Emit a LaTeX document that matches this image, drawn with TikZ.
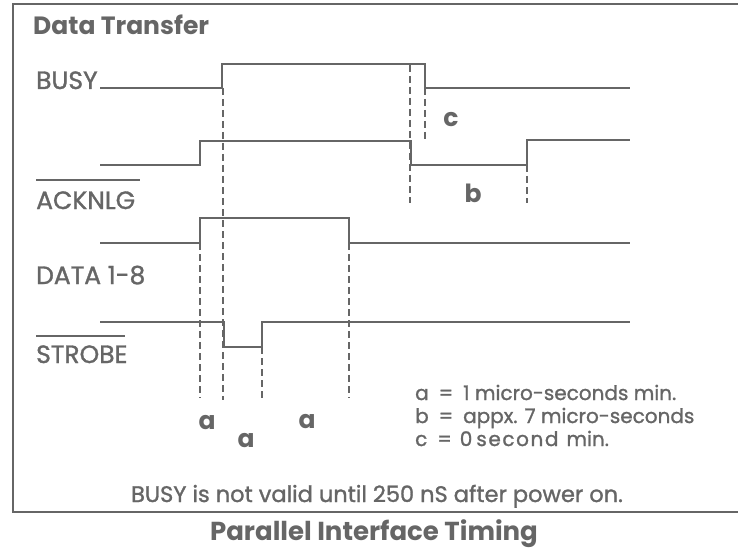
\documentclass[tikz,border=0pt]{standalone}
\usepackage{fontspec}
\setmainfont{Poppins}
\newfontfamily\medfont{Poppins}[FakeBold=1.2]
\definecolor{ink}{HTML}{666666}
\begin{document}
\begin{tikzpicture}[x=1pt,y=-1pt,
  sig/.style={draw=ink, line width=1.7pt, line join=miter},
  dsh/.style={draw=ink, line width=1.3pt, dash pattern=on 7pt off 4pt},
  lab/.style={text=ink, inner sep=0pt, anchor=base west, font=\medfont\fontsize{25}{25}\selectfont},
  hd/.style={text=ink, inner sep=0pt, font=\bfseries\fontsize{25}{25}\selectfont},
  tl/.style={text=ink, inner sep=0pt, font=\bfseries\fontsize{25}{25}\selectfont},
  leg/.style={text=ink, inner sep=0pt, anchor=base west, font=\medfont\fontsize{20}{20}\selectfont}]
\useasboundingbox (0,0) rectangle (738,548);
\fill[white] (0,0) rectangle (738,548);
% frame
\draw[sig] (738,4) -- (13,4) -- (13,512) -- (738,512);
% headings
\node[hd, anchor=base west] (title) at (33,35) {Data Transfer};
\node[hd, anchor=base, font=\bfseries\fontsize{26}{26}\selectfont] (caption) at (374,540) {Parallel Interface Timing};
% signal names
\node[lab] (busy) at (36,89) {BUSY};
\node[lab] (ack) at (36,209) {ACKNLG};
\node[lab] (data) at (36,284) {DATA 1-8};
\node[lab] (strobe) at (36,363) {STROBE};
\draw[ink, line width=1.5pt] (36,180) -- (140,180);
\draw[ink, line width=1.5pt] (36,336) -- (125,336);
% waveforms
\draw[sig] (100,88) -- (222,88) -- (222,64) -- (425,64) -- (425,88) -- (630,88);
\draw[sig] (100,165) -- (200,165) -- (200,141) -- (411,141) -- (411,165) -- (527,165) -- (527,140) -- (630,140);
\draw[sig] (100,243) -- (200,243) -- (200,218) -- (349,218) -- (349,243) -- (630,243);
\draw[sig] (100,322) -- (224,322) -- (224,347) -- (262,347) -- (262,322) -- (630,322);
% timing guides
\draw[dsh] (200,243) -- (200,398);
\draw[dsh] (223,88) -- (223,400);
\draw[dsh] (262,347) -- (262,400);
\draw[dsh] (349,243) -- (349,398);
\draw[dsh] (410,65) -- (410,203);
\draw[dsh] (425,88) -- (425,140);
\draw[dsh] (527,165) -- (527,203);
% interval labels
\node[tl] (lc) at (451,120) {c};
\node[tl] (lb) at (473,193) {b};
\node[tl] (la1) at (207,423) {a};
\node[tl] (la2) at (246,441) {a};
\node[tl] (la3) at (307,422) {a};
% legend
\node[leg] (leg1) at (415,400) {a\hspace{10pt}=\hspace{10pt}1 micro-seconds min.};
\node[leg] (leg2) at (415,423) {b\hspace{10pt}=\hspace{10pt}appx. 7 micro-seconds};
\node[leg] (leg3) at (415,446) {c\hspace{10pt}=\hspace{8pt}0\hspace{4pt}{\addfontfeature{LetterSpace=8}second}\hspace{8pt}min.};
\node[leg, anchor=base, font=\medfont\fontsize{22.5}{22.5}\selectfont] (note) at (377,502) {BUSY is not valid until 250 nS after power on.};
\end{tikzpicture}
\end{document}
